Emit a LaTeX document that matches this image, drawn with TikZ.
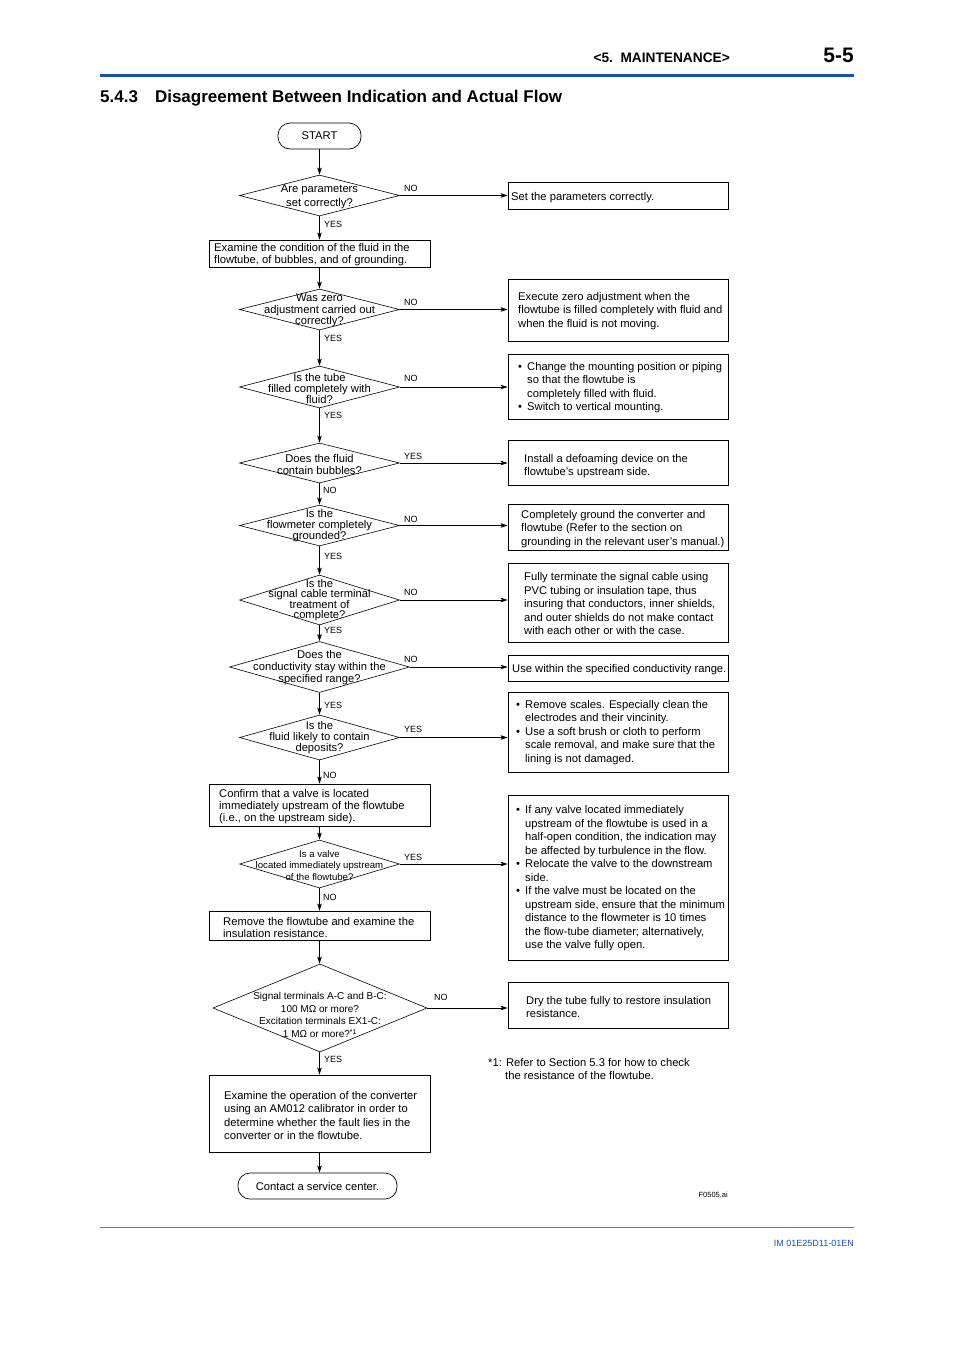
\documentclass[tikz,border=0pt]{standalone}
\usepackage{fontspec}
\setmainfont{Liberation Sans}
\usetikzlibrary{shapes.geometric,arrows.meta}
\definecolor{ykblue}{RGB}{30,80,165}
\definecolor{rulegray}{RGB}{110,120,140}
\begin{document}
\begin{tikzpicture}[x=1pt,y=-1pt,
  flow/.style={draw, line width=0.7pt, -{Stealth[length=7pt,width=4.5pt,inset=1.5pt]}},
  dia/.style 2 args={draw, diamond, line width=0.6pt, inner sep=0pt, minimum width=#1pt, minimum height=#2pt},
  box/.style 2 args={draw, rectangle, line width=0.8pt, inner sep=0pt, minimum width=#1pt, minimum height=#2pt},
  term/.style 2 args={draw, rectangle, rounded corners=12pt, line width=0.7pt, inner sep=0pt, minimum width=#1pt, minimum height=#2pt, font=\fontsize{11.2}{13}\selectfont},
  txt/.style={inner sep=0pt, align=left, anchor=west, yshift=-1.5pt, font=\fontsize{11.2}{13.5}\selectfont},
  dtxt/.style={inner sep=0pt, align=center, yshift=-1pt, font=\fontsize{11.2}{#1}\selectfont},
  lab/.style={inner sep=0pt, anchor=west, yshift=-0.5pt, font=\fontsize{9}{10}\selectfont}]
\useasboundingbox (0,0) rectangle (954,1350);

% header
\node[anchor=east, inner sep=0pt, font=\bfseries\fontsize{13.7}{15}\selectfont] (hdr) at (730,57.5) {<5.\ \ MAINTENANCE>};
\node[anchor=east, inner sep=0pt, font=\bfseries\fontsize{21}{24}\selectfont] (pg) at (854,55.5) {5-5};
\draw[ykblue, line width=3pt] (100,75) -- (854,75);
\node[anchor=west, inner sep=0pt, font=\bfseries\fontsize{17}{20}\selectfont] (title) at (100,98) {5.4.3\hspace{17pt}Disagreement Between Indication and Actual Flow};

% start
\node[term={83}{26}, yshift=0pt] (start) at (319.5,136) {START};

% diamonds
\node[dia={160}{41}] (d1) at (319.5,195.5) {};
\node[dtxt=14] (d1t) at (319.5,196) {Are parameters\\set correctly?};
\node[dia={160}{41}] (d2) at (319.5,309.5) {};
\node[dtxt=11.5] (d2t) at (319.5,309.5) {Was zero\\adjustment carried out\\correctly?};
\node[dia={160}{42}] (d3) at (319.5,387) {};
\node[dtxt=11] (d3t) at (319.5,387) {Is the tube\\filled completely with\\fluid?};
\node[dia={160}{40}] (d4) at (319.5,463) {};
\node[dtxt=12] (d4t) at (319.5,463) {Does the fluid\\contain bubbles?};
\node[dia={160}{41}] (d5) at (319.5,525.5) {};
\node[dtxt=11] (d5t) at (319.5,525) {Is the\\flowmeter completely\\grounded?};
\node[dia={160}{50}] (d6) at (319.5,600) {};
\node[dtxt=10] (d6t) at (319.5,599) {Is the\\signal cable terminal\\treatment of\\complete?};
\node[dia={180}{51}] (d7) at (319.5,667) {};
\node[dtxt=12] (d7t) at (319.5,667) {Does the\\conductivity stay within the\\specified range?};
\node[dia={160}{45}] (d8) at (319.5,737.5) {};
\node[dtxt=11] (d8t) at (319.5,737) {Is the\\fluid likely to contain\\deposits?};
\node[dia={160}{48}] (d9) at (319.5,864) {};
\node[inner sep=0pt, align=center, yshift=-1pt, font=\fontsize{9.6}{11.5}\selectfont] (d9t) at (319.5,864.5) {Is a valve\\located immediately upstream\\of the flowtube?};
\node[dia={214}{88}] (d10) at (320,1008) {};
\node[inner sep=0pt, align=center, yshift=-1pt, font=\fontsize{10}{12.7}\selectfont] (d10t) at (320,1014) {Signal terminals A-C and B-C:\\100 MΩ or more?\\Excitation terminals EX1-C:\\1 MΩ or more?\textsuperscript{*1}};

% left boxes
\node[box={221}{27}] (b0) at (319.5,253.5) {};
\node[txt, font=\fontsize{11.2}{12}\selectfont] (b0t) at (214,253.5) {Examine the condition of the fluid in the\\flowtube, of bubbles, and of grounding.};
\node[box={221}{42}] (b9) at (319.5,805) {};
\node[txt, font=\fontsize{11.2}{12}\selectfont] (b9t) at (219,805) {Confirm that a valve is located\\immediately upstream of the flowtube\\(i.e., on the upstream side).};
\node[box={221}{29}] (b11) at (319.5,925.5) {};
\node[txt, font=\fontsize{11.2}{12}\selectfont] (b11t) at (223,925.5) {Remove the flowtube and examine the\\insulation resistance.};
\node[box={221}{77}] (b13) at (319.5,1113.5) {};
\node[txt] (b13t) at (224,1114) {Examine the operation of the converter\\using an AM012 calibrator in order to\\determine whether the fault lies in the\\converter or in the flowtube.};
\node[term={159}{26}] (end) at (317.5,1186) {Contact a service center.};

% right boxes
\node[box={220}{27}] (b1) at (618,195.5) {};
\node[txt] (b1t) at (511,196) {Set the parameters correctly.};
\node[box={220}{62}] (b2) at (618,310) {};
\node[txt] (b2t) at (518,309.5) {Execute zero adjustment when the\\flowtube is filled completely with fluid and\\when the fluid is not moving.};
\node[box={220}{65}] (b3) at (618,386.5) {};
\node[txt] (b3t) at (518,386) {\makebox[9pt][l]{\textbullet}Change the mounting position or piping\\\hspace*{9pt}so that the flowtube is\\\hspace*{9pt}completely filled with fluid.\\\makebox[9pt][l]{\textbullet}Switch to vertical mounting.};
\node[box={220}{45}] (b4) at (618,462.5) {};
\node[txt] (b4t) at (524,464.5) {Install a defoaming device on the\\flowtube’s upstream side.};
\node[box={220}{46}] (b5) at (618,527) {};
\node[txt] (b5t) at (521,527.5) {Completely ground the converter and\\flowtube (Refer to the section on\\grounding in the relevant user's manual.)};
\node[box={220}{79}] (b6) at (618,602.5) {};
\node[txt] (b6t) at (524,602) {Fully terminate the signal cable using\\PVC tubing or insulation tape, thus\\insuring that conductors, inner shields,\\and outer shields do not make contact\\with each other or with the case.};
\node[box={220}{26}] (b7) at (618,668) {};
\node[txt] (b7t) at (512,668) {Use within the specified conductivity range.};
\node[box={220}{80}] (b8) at (618,732) {};
\node[txt] (b8t) at (516,731) {\makebox[9pt][l]{\textbullet}Remove scales. Especially clean the\\\hspace*{9pt}electrodes and their vincinity.\\\makebox[9pt][l]{\textbullet}Use a soft brush or cloth to perform\\\hspace*{9pt}scale removal, and make sure that the\\\hspace*{9pt}lining is not damaged.};
\node[box={220}{165}] (b10) at (618,877.5) {};
\node[txt] (b10t) at (516,877) {\makebox[9pt][l]{\textbullet}If any valve located immediately\\\hspace*{9pt}upstream of the flowtube is used in a\\\hspace*{9pt}half-open condition, the indication may\\\hspace*{9pt}be affected by turbulence in the flow.\\\makebox[9pt][l]{\textbullet}Relocate the valve to the downstream\\\hspace*{9pt}side.\\\makebox[9pt][l]{\textbullet}If the valve must be located on the\\\hspace*{9pt}upstream side, ensure that the minimum\\\hspace*{9pt}distance to the flowmeter is 10 times\\\hspace*{9pt}the flow-tube diameter; alternatively,\\\hspace*{9pt}use the valve fully open.};
\node[box={220}{46}] (b12) at (618,1005) {};
\node[txt] (b12t) at (526,1005.5) {Dry the tube fully to restore insulation\\resistance.};

% footnote
\node[txt] (fn) at (488,1067.5) {*1: Refer to Section 5.3 for how to check\\\hspace*{17pt}the resistance of the flowtube.};
\node[anchor=east, inner sep=0pt, font=\fontsize{7.5}{9}\selectfont] (fig) at (728,1194.5) {F0505.ai};

% vertical connectors
\draw[flow] (start.south) -- (d1.north);
\draw[flow] (d1.south) -- (b0.north);
\draw[flow] (b0.south) -- (d2.north);
\draw[flow] (d2.south) -- (d3.north);
\draw[flow] (d3.south) -- (d4.north);
\draw[flow] (d4.south) -- (d5.north);
\draw[flow] (d5.south) -- (d6.north);
\draw[flow] (d6.south) -- (d7.north);
\draw[flow] (d7.south) -- (d8.north);
\draw[flow] (d8.south) -- (b9.north);
\draw[flow] (b9.south) -- (d9.north);
\draw[flow] (d9.south) -- (b11.north);
\draw[flow] (b11.south) -- (d10.north -| b11.south);
\draw[flow] (d10.south -| b13.north) -- (b13.north);
\draw[flow] (b13.south) -- (b13.south |- end.north);

% horizontal connectors
\draw[flow] (d1.east) -- (d1.east -| b1.west);
\draw[flow] (d2.east) -- (d2.east -| b2.west);
\draw[flow] (d3.east) -- (d3.east -| b3.west);
\draw[flow] (d4.east) -- (d4.east -| b4.west);
\draw[flow] (d5.east) -- (d5.east -| b5.west);
\draw[flow] (d6.east) -- (d6.east -| b6.west);
\draw[flow] (d7.east) -- (d7.east -| b7.west);
\draw[flow] (d8.east) -- (d8.east -| b8.west);
\draw[flow] (d9.east) -- (d9.east -| b10.west);
\draw[flow] (d10.east) -- (d10.east -| b12.west);

% labels
\node[lab] at (324,224) {YES};
\node[lab] at (324,338) {YES};
\node[lab] at (324,415) {YES};
\node[lab] at (323,490) {NO};
\node[lab] at (324,556) {YES};
\node[lab] at (324,630) {YES};
\node[lab] at (324,705) {YES};
\node[lab] at (323,775) {NO};
\node[lab] at (323,897) {NO};
\node[lab] at (324,1059) {YES};
\node[lab] at (404,188) {NO};
\node[lab] at (404,302) {NO};
\node[lab] at (404,378) {NO};
\node[lab] at (404,456) {YES};
\node[lab] at (404,519) {NO};
\node[lab] at (404,592) {NO};
\node[lab] at (404,659) {NO};
\node[lab] at (404,729) {YES};
\node[lab] at (404,857) {YES};
\node[lab] at (434,997) {NO};

% footer
\draw[rulegray, line width=0.8pt] (100,1227) -- (854,1227);
\node[anchor=east, inner sep=0pt, text=ykblue, font=\fontsize{9}{10}\selectfont] (foot) at (854,1243.5) {IM 01E25D11-01EN};
\end{tikzpicture}
\end{document}
